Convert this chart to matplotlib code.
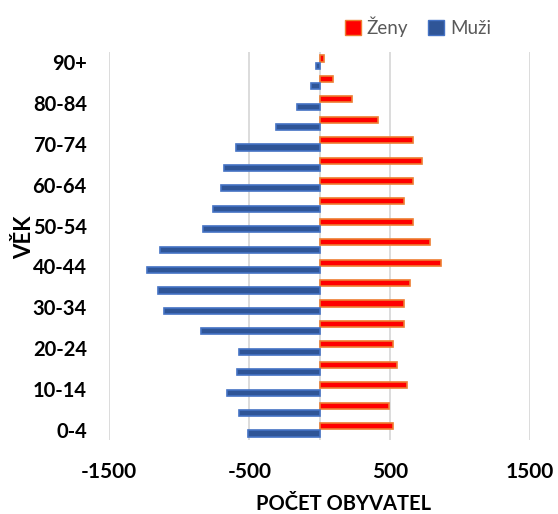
import matplotlib
matplotlib.use("Agg")
import matplotlib.pyplot as plt
import numpy as np
from matplotlib.patches import Patch

plt.rcParams["font.family"] = ["Lato", "DejaVu Sans"]

# Age groups from youngest to oldest
age_groups = [
    "0-4", "5-9", "10-14", "15-19", "20-24", "25-29", "30-34", "35-39",
    "40-44", "45-49", "50-54", "55-59", "60-64", "65-69", "70-74",
    "75-79", "80-84", "85-89", "90+",
]
women = [526, 495, 626, 552, 526, 605, 600, 643, 867, 790,
         664, 605, 664, 729, 667, 419, 229, 95, 30]
men = [-507, -571, -662, -586, -576, -841, -1105, -1152, -1231, -1138,
       -829, -762, -702, -681, -595, -309, -157, -64, -24]
x_ticks = [-1500, -500, 500, 1500]

fig = plt.figure(figsize=(5.58, 5.14), dpi=100)
ax = fig.add_axes([0.1953, 0.144, 0.7547, 0.755])

y = np.arange(len(age_groups))
ax.barh(y + 0.18, women, height=0.3, color="#FF0000",
        edgecolor="#ED7D31", linewidth=1.2, zorder=3)
ax.barh(y - 0.18, men, height=0.3, color="#2F5597",
        edgecolor="#4472C4", linewidth=1.2, zorder=3)

# Axes and grid
ax.set_xlim(-1500, 1500)
ax.set_ylim(-0.5, len(age_groups) - 0.5)
ax.set_xticks(x_ticks)
ax.set_xticklabels([str(v) for v in x_ticks], fontsize=15, fontweight="bold")
ax.set_yticks(y)
ax.set_yticklabels([lab if i % 2 == 0 else "" for i, lab in enumerate(age_groups)],
                   fontsize=14.5, fontweight="bold")
ax.tick_params(axis="x", length=0, pad=16)
ax.tick_params(axis="y", length=0, pad=16)
ax.grid(axis="x", color="#D9D9D9", linewidth=1.3, zorder=0)
ax.axvline(0, color="#D9D9D9", linewidth=1.3, zorder=1)
for s in ax.spines.values():
    s.set_visible(False)

fig.text(0.615, 0.02, "POČET OBYVATEL", ha="center", va="center",
         fontsize=14.5, fontweight="bold")
fig.text(0.044, 0.538, "VĚK", ha="center", va="center", rotation=90,
         fontsize=16, fontweight="bold")

handles = [Patch(facecolor="#FF0000", edgecolor="#ED7D31", label="Ženy"),
           Patch(facecolor="#2F5597", edgecolor="#4472C4", label="Muži")]
leg = fig.legend(handles=handles, loc="center right", bbox_to_anchor=(0.91, 0.948),
                 ncol=2, frameon=False, fontsize=13.5, handlelength=0.85,
                 handleheight=0.9, handletextpad=0.3, columnspacing=1.1)
for t in leg.get_texts():
    t.set_color("#595959")

fig.savefig("out.png", dpi=100)
